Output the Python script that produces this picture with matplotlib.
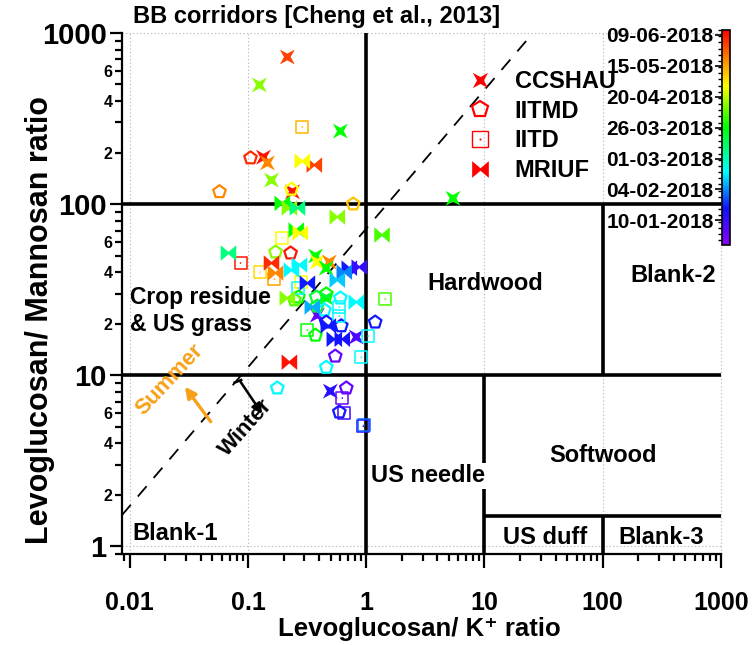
import numpy as np
import matplotlib
matplotlib.use('Agg')
import matplotlib.pyplot as plt
import matplotlib.dates as mdates
import matplotlib.ticker as mticker
from matplotlib.colors import LinearSegmentedColormap, Normalize
from matplotlib.cm import ScalarMappable
from matplotlib.path import Path
from matplotlib.lines import Line2D
from matplotlib import font_manager as fm

names = {f.name for f in fm.fontManager.ttflist}
NARROW = 'Liberation Sans Narrow' if 'Liberation Sans Narrow' in names else 'Liberation Sans'
plt.rcParams['font.family'] = ['Liberation Sans', 'DejaVu Sans']
plt.rcParams['font.weight'] = 'bold'

# ---------------- data ----------------
ccshau_x = [0.215, 0.125, 0.604, 0.135, 0.146, 0.158, 0.238, 5.42, 0.372, 0.385, 0.487,
            0.459, 0.459, 0.385, 0.824, 0.497]
ccshau_y = [724, 497, 267, 188, 174, 138, 118, 108, 49.7, 45.8, 45.8, 42.2, 28.2, 22.4, 16.7, 8.06]
ccshau_d = ['2018-06-01', '2018-04-13', '2018-03-27', '2018-06-09', '2018-05-20', '2018-04-13',
            '2018-06-09', '2018-03-27', '2018-03-27', '2018-04-29', '2018-05-20', '2018-03-27',
            '2018-03-20', '2017-12-30', '2018-01-05', '2018-01-15']

iitmd_x = [0.105, 0.0574, 0.233, 0.776, 0.171, 0.229, 0.267, 0.247, 0.459, 0.378, 0.604,
           0.385, 0.443, 0.459, 0.615, 1.19, 0.372, 0.547, 0.459, 0.177, 0.678, 0.592]
iitmd_y = [186, 118, 122, 100, 52.4, 51.7, 28.6, 27.5, 29.8, 28.6, 28.2, 25.3, 24.0, 20.4,
           19.4, 20.4, 17.1, 12.9, 11.1, 8.40, 8.40, 6.08]
iitmd_d = ['2018-06-05', '2018-05-20', '2018-04-29', '2018-05-09', '2018-04-13', '2018-06-09',
           '2018-03-27', '2018-04-05', '2018-03-27', '2018-03-20', '2018-02-18', '2018-03-20',
           '2018-02-18', '2018-01-21', '2018-01-21', '2018-01-21', '2018-03-27', '2017-12-30',
           '2018-02-18', '2018-02-18', '2017-12-30', '2018-01-21']

iitd_x = [0.288, 0.195, 0.0865, 0.127, 0.167, 0.283, 0.267, 0.592, 0.592, 1.45, 0.318,
          1.04, 0.908, 0.627, 0.652, 0.944, 0.96]
iitd_y = [282, 63.3, 45.2, 40.0, 36.4, 35.0, 32.3, 25.0, 22.1, 27.8, 18.3, 16.9, 12.7,
          7.34, 5.99, 5.03, 5.1]
iitd_d = ['2018-05-12', '2018-04-29', '2018-06-09', '2018-05-05', '2018-05-15', '2018-04-29',
          '2018-02-18', '2018-02-18', '2018-02-18', '2018-04-05', '2018-03-27', '2018-02-18',
          '2018-02-18', '2017-12-30', '2018-01-08', '2018-01-15', '2018-01-30']

mriuf_x = [0.364, 0.288, 0.195, 0.224, 0.262, 0.569, 1.36, 0.256, 0.277, 0.0684, 0.158,
           0.171, 0.233, 0.272, 0.719, 0.873, 0.652, 0.569, 0.318, 0.215, 0.824, 0.350,
           0.478, 0.537, 0.627, 0.224]
mriuf_y = [169, 178, 101, 94.8, 94.8, 84.0, 65.9, 70.5, 67.7, 51.7, 45.2, 39.5, 41.1, 44.0,
           42.2, 42.8, 40.0, 35.9, 34.5, 28.2, 26.7, 25.0, 19.4, 16.2, 16.2, 11.9]
mriuf_d = ['2018-06-01', '2018-04-29', '2018-03-27', '2018-04-13', '2018-03-09', '2018-04-13',
           '2018-04-05', '2018-03-27', '2018-04-29', '2018-03-09', '2018-06-05', '2018-05-20',
           '2018-02-18', '2018-02-18', '2018-01-21', '2018-01-11', '2018-02-03', '2018-02-12',
           '2018-01-21', '2018-04-13', '2018-02-18', '2018-02-08', '2018-01-21', '2018-01-21',
           '2018-01-18', '2018-06-09']

cbar_ticks = ['2018-01-10', '2018-02-04', '2018-03-01', '2018-03-26', '2018-04-20',
              '2018-05-15', '2018-06-09']
cbar_range = ['2017-12-21', '2018-06-13']

# region boundaries [Cheng et al., 2013]
x_lo, x_hi = 0.0086, 1000
y_lo, y_hi = 0.9, 1000
dash_x = [0.0086, 25.7]
dash_y = [1.52, 1000]

# ---------------- style ----------------
def dnum(lst):
    return mdates.date2num(np.array(lst, dtype='datetime64[D]'))

cmap = LinearSegmentedColormap.from_list('origin_rainbow', [
    (0.0, '#8A00FF'), (0.17, '#1010FF'), (0.34, '#00FFFF'), (0.55, '#00FF00'),
    (0.74, '#FFFF00'), (0.87, '#FF8000'), (1.0, '#FF0000')])
norm = Normalize(vmin=dnum(cbar_range)[0], vmax=dnum(cbar_range)[1])

star4 = Path([(-1, 1), (0, 0.45), (1, 1), (0.45, 0), (1, -1), (0, -0.45), (-1, -1),
              (-0.45, 0), (-1, 1)], closed=True)
bowtie = Path([(-1, 1), (0, 0.15), (1, 1), (1, -1), (0, -0.15), (-1, -1), (-1, 1)], closed=True)

fig = plt.figure(figsize=(7.53, 6.45), dpi=100)
ax = fig.add_axes([122/753, 1-554/645, 599/753, 521/645])
ax.set_xscale('log')
ax.set_yscale('log')
ax.set_xlim(x_lo, x_hi)
ax.set_ylim(y_lo, y_hi)

for s in ['top', 'right']:
    ax.spines[s].set_visible(False)
for s in ['left', 'bottom']:
    ax.spines[s].set_linewidth(1.6)

for v in [0.01, 0.1, 1, 10, 100, 1000]:
    ax.axvline(v, color='#bdbdbd', lw=0.8, ls=(0, (1.2, 2.0)), zorder=0, clip_on=False)
for v in [1, 10, 100, 1000]:
    ax.axhline(v, color='#bdbdbd', lw=0.8, ls=(0, (1.2, 2.0)), zorder=0, clip_on=False)

LW = 2.6
ax.plot([x_lo, x_hi], [100, 100], color='k', lw=LW, zorder=1, solid_capstyle='butt')
ax.plot([x_lo, x_hi], [10, 10], color='k', lw=LW, zorder=1, solid_capstyle='butt')
ax.plot([1, 1], [y_lo, y_hi], color='k', lw=LW, zorder=1, solid_capstyle='butt')
ax.plot([100, 100], [10, 100], color='k', lw=LW, zorder=1, solid_capstyle='butt')
ax.plot([10, 10], [y_lo, 10], color='k', lw=LW, zorder=1, solid_capstyle='butt')
ax.plot([10, x_hi], [1.5, 1.5], color='k', lw=LW, zorder=1, solid_capstyle='butt')
ax.plot([100, 100], [y_lo, 1.5], color='k', lw=LW, zorder=1, solid_capstyle='butt')
ax.plot(dash_x, dash_y, color='k', lw=1.3, ls=(0, (7.5, 6)), zorder=1)

# data
ax.scatter(ccshau_x, ccshau_y, s=115, marker=star4, c=dnum(ccshau_d), cmap=cmap, norm=norm,
           linewidths=0, zorder=3)
ax.scatter(iitmd_x, iitmd_y, s=90, marker='p', facecolors='none',
           edgecolors=cmap(norm(dnum(iitmd_d))), linewidths=1.6, zorder=3)
ax.scatter(iitd_x, iitd_y, s=75, marker='s', facecolors='none',
           edgecolors=cmap(norm(dnum(iitd_d))), linewidths=1.1, zorder=3)
ax.scatter(iitd_x, iitd_y, s=1.5, marker='o', c=dnum(iitd_d), cmap=cmap, norm=norm,
           linewidths=0, zorder=3)
ax.scatter(mriuf_x, mriuf_y, s=125, marker=bowtie, c=dnum(mriuf_d), cmap=cmap, norm=norm,
           linewidths=0, zorder=3)

# ticks
ax.xaxis.set_major_locator(mticker.FixedLocator([0.01, 0.1, 1, 10, 100, 1000]))
ax.xaxis.set_major_formatter(mticker.FixedFormatter(['0.01', '0.1', '1', '10', '100', '1000']))
ax.xaxis.set_minor_locator(mticker.LogLocator(base=10, subs=np.arange(2, 10)))
ax.xaxis.set_minor_formatter(mticker.NullFormatter())
ax.yaxis.set_major_locator(mticker.FixedLocator([1, 10, 100, 1000]))
ax.yaxis.set_major_formatter(mticker.FixedFormatter(['1', '10', '100', '1000']))
ax.yaxis.set_minor_locator(mticker.LogLocator(base=10, subs=np.arange(2, 10)))

def minor_fmt(v, pos):
    m = v / 10 ** np.floor(np.log10(v) + 1e-9)
    return str(int(round(m))) if int(round(m)) in (2, 4, 6) else ''
ax.yaxis.set_minor_formatter(mticker.FuncFormatter(minor_fmt))

ax.tick_params(axis='x', which='major', length=10, width=1.6, pad=17)
ax.tick_params(axis='x', which='minor', length=5, width=1.6)
ax.tick_params(axis='y', which='major', length=9, width=1.6, pad=2, labelsize=21)
ax.tick_params(axis='y', which='minor', length=5, width=1.6, pad=2, labelsize=11.5)
for lab in ax.get_xticklabels():
    lab.set_fontfamily([NARROW, 'DejaVu Sans'])
    lab.set_fontsize(18)
    lab.set_fontweight('bold')
for lab in ax.get_yticklabels() + ax.get_yticklabels(minor=True):
    lab.set_fontweight('bold')

ax.set_xlabel('Levoglucosan/ K\u207a ratio', fontsize=18.5, fontweight='bold',
              family=[NARROW, 'DejaVu Sans'])
ax.xaxis.set_label_coords(0.497, -0.12)
ax.set_ylabel('Levoglucosan/ Mannosan ratio', fontsize=22, fontweight='bold')
ax.yaxis.set_label_coords(-0.112, 0.449)

# region texts
tk = dict(fontsize=17, fontweight='bold', transform=ax.transAxes, zorder=4)
ax.text(0.018, 1.031, 'BB corridors [Cheng et al., 2013]', ha='left', va='center', **tk)
ax.text(0.013, 0.466, 'Crop residue\n& US grass', ha='left', va='center', linespacing=1.2,
        fontsize=16.5, fontweight='bold', transform=ax.transAxes, zorder=4)
ax.text(0.606, 0.520, 'Hardwood', ha='center', va='center', **tk)
ax.text(0.920, 0.534, 'Blank-2', ha='center', va='center', **tk)
ax.text(0.511, 0.150, 'US needle', ha='center', va='center',
        bbox=dict(fc='white', ec='none', pad=1.0), **tk)
ax.text(0.803, 0.190, 'Softwood', ha='center', va='center', **tk)
ax.text(0.706, 0.031, 'US duff', ha='center', va='center', **tk)
ax.text(0.900, 0.031, 'Blank-3', ha='center', va='center', **tk)
ax.text(0.088, 0.040, 'Blank-1', ha='center', va='center', **tk)
ax.text(0.080, 0.334, 'Summer', ha='center', va='center', rotation=47, color='#F7A11A',
        fontsize=16, fontweight='bold', transform=ax.transAxes, zorder=4)
ax.text(0.207, 0.242, 'Winter', ha='center', va='center', rotation=48, color='k',
        fontsize=16, fontweight='bold', transform=ax.transAxes, zorder=4)
ax.annotate('', xy=(0.105, 0.321), xytext=(0.148, 0.254), xycoords='axes fraction',
            arrowprops=dict(arrowstyle='-|>', color='#F7A11A', lw=2.4, mutation_scale=16,
                            shrinkA=0, shrinkB=0))
ax.annotate('', xy=(0.234, 0.269), xytext=(0.197, 0.332), xycoords='axes fraction',
            arrowprops=dict(arrowstyle='-|>', color='k', lw=1.8, mutation_scale=15,
                            shrinkA=0, shrinkB=0))
ax.plot([0.188, 0.199], [0.329, 0.334], color='k', lw=1.8, transform=ax.transAxes)

# legend
h1 = Line2D([], [], ls='none', marker=star4, ms=11, mfc='red', mec='red', mew=0)
h2 = Line2D([], [], ls='none', marker='p', ms=12, mfc='none', mec='red', mew=1.6)
h3a = Line2D([], [], ls='none', marker='s', ms=11, mfc='none', mec='red', mew=1.0)
h3b = Line2D([], [], ls='none', marker='o', ms=1.5, mfc='red', mec='red', mew=0)
h4 = Line2D([], [], ls='none', marker=bowtie, ms=12, mfc='red', mec='red', mew=0)
fig.legend([h1, h2, (h3a, h3b), h4], ['CCSHAU', 'IITMD', 'IITD', 'MRIUF'],
           loc='upper left', bbox_to_anchor=(468/753, 1-70/645), frameon=False,
           prop=dict(weight='bold', size=17), handlelength=1.0, handletextpad=0.98,
           labelspacing=0.28, borderpad=0, borderaxespad=0)

# colorbar
cax = fig.add_axes([722/753, 1-245/645, 8/753, 215/645])
sm = ScalarMappable(norm=norm, cmap=cmap)
cb = fig.colorbar(sm, cax=cax)
cb.outline.set_linewidth(1.2)
cax.yaxis.set_ticks_position('left')
cax.yaxis.set_label_position('left')
cb.set_ticks(dnum(cbar_ticks))
cb.set_ticklabels([f"{d[8:10]}-{d[5:7]}-{d[0:4]}" for d in cbar_ticks])
cax.yaxis.set_minor_locator(mticker.MultipleLocator(5))
cax.tick_params(which='major', length=5, width=1.2, labelsize=15, pad=1)
cax.tick_params(which='minor', length=3, width=1.0)
for lab in cax.get_yticklabels():
    lab.set_fontweight('bold')

fig.savefig('out.png', dpi=100)
